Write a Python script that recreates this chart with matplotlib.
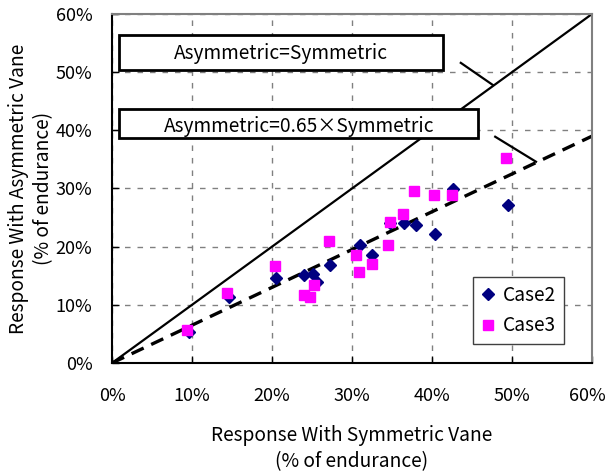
import matplotlib
matplotlib.use('Agg')
import matplotlib.pyplot as plt
from matplotlib.ticker import PercentFormatter
from matplotlib.transforms import ScaledTranslation
import numpy as np

plt.rcParams['font.family'] = ['Noto Sans CJK JP', 'DejaVu Sans']

# Response with symmetric vane (x) vs asymmetric vane (y), fraction of endurance
case2_x = [0.096, 0.146, 0.205, 0.240, 0.251, 0.256, 0.272, 0.310, 0.325,
           0.347, 0.365, 0.380, 0.404, 0.426, 0.495]
case2_y = [0.054, 0.113, 0.146, 0.151, 0.153, 0.140, 0.168, 0.203, 0.186,
           0.241, 0.240, 0.237, 0.221, 0.299, 0.272]
case3_x = [0.094, 0.144, 0.204, 0.240, 0.248, 0.253, 0.271, 0.305, 0.309,
           0.325, 0.345, 0.347, 0.364, 0.378, 0.402, 0.425, 0.493]
case3_y = [0.057, 0.121, 0.167, 0.117, 0.113, 0.134, 0.210, 0.186, 0.157,
           0.170, 0.203, 0.243, 0.256, 0.296, 0.289, 0.289, 0.352]

ratio_fit = 0.65
line_x = [0.0, 0.6]

fig = plt.figure(figsize=(6.07, 4.72), dpi=100)
ax = fig.add_axes([112/607, 1-363/472, 480/607, 349/472])

# reference lines
ax.plot(line_x, line_x, color='black', lw=1.6, zorder=2)
ax.plot(line_x, [v*ratio_fit for v in line_x], color='black', lw=2.4,
        ls=(0, (4, 2.5)), zorder=2)

ax.plot(case2_x, case2_y, ls='none', marker='D', ms=6.5, color='#000080',
        label='Case2', zorder=3)
ax.plot(case3_x, case3_y, ls='none', marker='s', ms=7, color='#FF00FF',
        label='Case3', zorder=4)

ax.set_xlim(0, 0.6)
ax.set_ylim(0, 0.6)
ticks = np.arange(0, 0.61, 0.1)
ax.set_xticks(ticks)
ax.set_yticks(ticks)
ax.xaxis.set_major_formatter(PercentFormatter(1.0, decimals=0))
ax.yaxis.set_major_formatter(PercentFormatter(1.0, decimals=0))
ax.tick_params(axis='both', direction='in', length=5, width=1,
               labelsize=13, color='black')
ax.tick_params(axis='x', pad=17)
ax.tick_params(axis='y', pad=14)
ax.grid(True, color='#808080', lw=1, ls=(0, (4, 5)))
ax.set_axisbelow(True)
for side in ['top', 'right']:
    ax.spines[side].set_color('#808080')
    ax.spines[side].set_linewidth(1.5)
for side in ['left', 'bottom']:
    ax.spines[side].set_color('black')
    ax.spines[side].set_linewidth(1.5)

# last x tick label nudged left so it stays inside the figure
last = ax.get_xticklabels()[-1]
last.set_transform(last.get_transform() + ScaledTranslation(-5/100, 0, fig.dpi_scale_trans))

ax.set_xlabel('Response With Symmetric Vane\n(% of endurance)', fontsize=13.8,
              labelpad=15, linespacing=1.3)
ax.set_ylabel('Response With Asymmetric Vane\n(% of endurance)', fontsize=13.8,
              labelpad=1, linespacing=1.3)

# annotation boxes with leader lines
ax.add_patch(plt.Rectangle((0.009, 0.504), 0.405, 0.060, fc='white',
                           ec='black', lw=2, zorder=5))
ax.text(0.2115, 0.532, 'Asymmetric=Symmetric', ha='center', va='center',
        fontsize=13.8, zorder=6)
ax.plot([0.436, 0.476], [0.516, 0.478], color='black', lw=1.6, zorder=2)

ax.add_patch(plt.Rectangle((0.009, 0.387), 0.449, 0.050, fc='white',
                           ec='black', lw=2, zorder=5))
ax.text(0.2335, 0.406, 'Asymmetric=0.65\u00d7Symmetric', ha='center',
        va='center', fontsize=13.8, zorder=6)
ax.plot([0.479, 0.530], [0.389, 0.346], color='black', lw=1.6, zorder=2)

leg = ax.legend(loc='lower right', bbox_to_anchor=(0.942, 0.054),
                borderaxespad=0, fontsize=13.8, frameon=True, fancybox=False,
                framealpha=1, edgecolor='#404040', handlelength=0.8,
                handletextpad=0.4, borderpad=0.4, labelspacing=0.5)
leg.get_frame().set_linewidth(1)

fig.savefig('out.png', dpi=100)
